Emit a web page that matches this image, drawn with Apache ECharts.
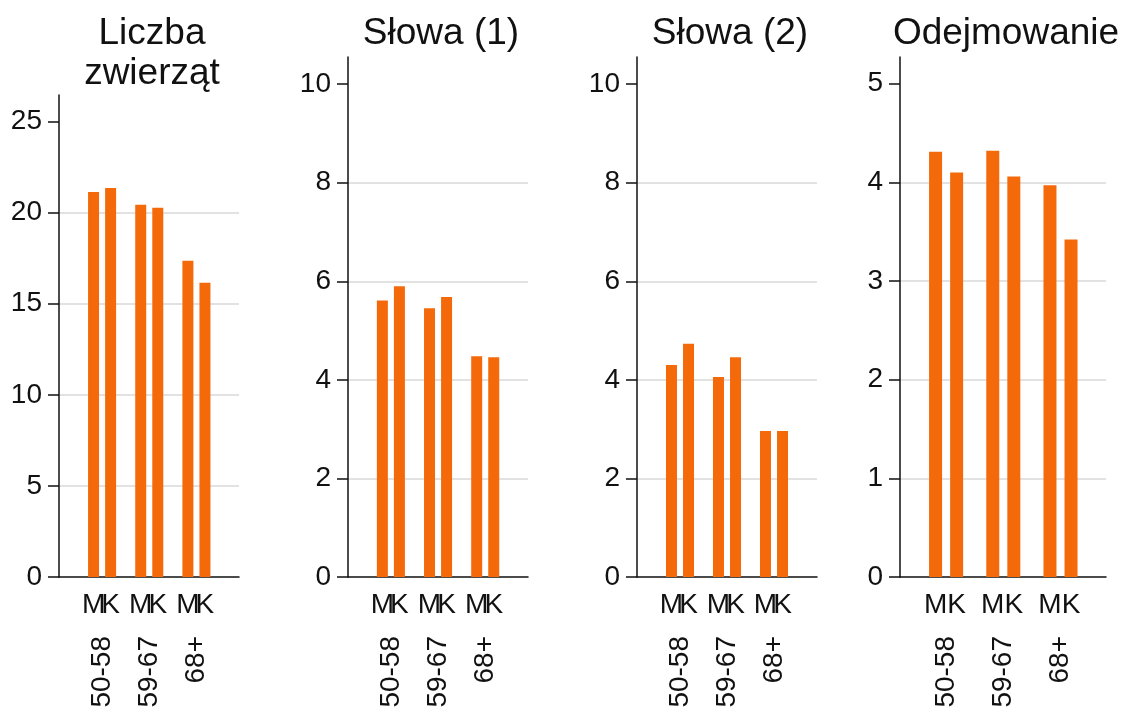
<!DOCTYPE html>
<html>
<head>
<meta charset="utf-8">
<script src="https://cdn.jsdelivr.net/npm/echarts@6/dist/echarts.min.js"></script>
<style>
  html, body { margin: 0; padding: 0; background: #fff; }
  #main { width: 1121px; height: 708px; }
</style>
</head>
<body>
<div id="main"></div>
<script>
// kategorie wiekowe
var groups = ['50-58', '59-67', '68+'];
var titles = ['Liczba\nzwierząt', 'Słowa (1)', 'Słowa (2)', 'Odejmowanie'];

// wartości: M = mężczyźni, K = kobiety
var zwierzetaM = [21.14, 20.43, 17.36];
var zwierzetaK = [21.36, 20.27, 16.16];
var slowa1M = [5.61, 5.45, 4.48];
var slowa1K = [5.90, 5.68, 4.46];
var slowa2M = [4.30, 4.06, 2.96];
var slowa2K = [4.73, 4.46, 2.96];
var odejmM = [4.31, 4.32, 3.97];
var odejmK = [4.10, 4.06, 3.42];

// podziałki osi y
var ticks1 = [0, 5, 10, 15, 20, 25];
var ticks2 = [0, 2, 4, 6, 8, 10];
var ticks3 = [0, 2, 4, 6, 8, 10];
var ticks4 = [0, 1, 2, 3, 4, 5];

var seriesM = [zwierzetaM, slowa1M, slowa2M, odejmM];
var seriesK = [zwierzetaK, slowa1K, slowa2K, odejmK];
var tickList = [ticks1, ticks2, ticks3, ticks4];

// układ paneli (px)
var layout = [
  { axisX: 59, right: 239, top: 95, barsLeft: 78.5, barsWidth: 141.5, yMax: 26.46, barW: 11, gap: '55%' },
  { axisX: 348, right: 528, top: 57, barsLeft: 367.3, barsWidth: 141.5, yMax: 10.55, barW: 11, gap: '55%' },
  { axisX: 637, right: 817, top: 57, barsLeft: 656.5, barsWidth: 141, yMax: 10.55, barW: 11, gap: '55%' },
  { axisX: 900, right: 1106, top: 57, barsLeft: 917.5, barsWidth: 171.6, yMax: 5.27, barW: 13, gap: '62%' }
];
var bottomY = 577;

var font = 'Liberation Sans, Arial, sans-serif';
var ink = '#111111';
var orange = '#f46a0b';

var option = {
  animation: false,
  backgroundColor: '#ffffff',
  textStyle: { fontFamily: font },
  title: [],
  grid: [],
  xAxis: [],
  yAxis: [],
  series: []
};

for (var i = 0; i < 4; i++) {
  var L = layout[i];
  var frame = 2 * i, bars = 2 * i + 1;

  option.title.push({
    text: titles[i],
    left: (L.axisX + L.right) / 2 - 2,
    top: 9,
    textAlign: 'center',
    textStyle: { fontSize: 37, fontWeight: 'normal', color: ink, fontFamily: font, lineHeight: 40 }
  });

  // ramka z osią y i liniami siatki
  option.grid.push({ left: L.axisX, width: L.right - L.axisX, top: L.top, height: bottomY - L.top, outerBoundsMode: 'none', containLabel: false });
  // siatka na słupki
  option.grid.push({ left: L.barsLeft, width: L.barsWidth, top: L.top, height: bottomY - L.top, outerBoundsMode: 'none', containLabel: false });

  option.xAxis.push({
    type: 'category', gridIndex: frame, data: groups,
    axisLine: { show: true, lineStyle: { color: ink, width: 1.5 } },
    axisTick: { show: false }, axisLabel: { show: false }, splitLine: { show: false }
  });
  option.xAxis.push({
    type: 'category', gridIndex: bars, data: groups,
    axisLine: { show: false }, axisTick: { show: false },
    axisLabel: { rotate: 90, margin: 59, fontSize: 28, color: ink, fontFamily: font, hideOverlap: false }
  });

  option.yAxis.push({
    type: 'value', gridIndex: frame, min: 0, max: L.yMax,
    axisLine: { show: true, lineStyle: { color: ink, width: 1.5 } },
    axisTick: { show: true, length: 11, customValues: tickList[i], lineStyle: { color: ink, width: 1.5 } },
    axisLabel: { customValues: tickList[i], fontSize: 28, margin: 17, color: ink, fontFamily: font },
    splitLine: { show: true, showMinLine: false, showMaxLine: false, lineStyle: { color: '#e2e2e2', width: 2 } }
  });
  option.yAxis.push({
    type: 'value', gridIndex: bars, min: 0, max: L.yMax, show: false
  });

  option.series.push({
    name: 'M', type: 'bar', xAxisIndex: bars, yAxisIndex: bars,
    data: seriesM[i], barWidth: L.barW, barGap: L.gap,
    itemStyle: { color: orange },
    label: { show: true, position: 'bottom', distance: 14, formatter: 'M', fontSize: 28, color: ink, fontFamily: font }
  });
  option.series.push({
    name: 'K', type: 'bar', xAxisIndex: bars, yAxisIndex: bars,
    data: seriesK[i], barWidth: L.barW, barGap: L.gap,
    itemStyle: { color: orange },
    label: { show: true, position: 'bottom', distance: 14, formatter: 'K', fontSize: 28, color: ink, fontFamily: font }
  });
}

var chart = echarts.init(document.getElementById('main'), null, { renderer: 'canvas' });
chart.setOption(option);
</script>
</body>
</html>
